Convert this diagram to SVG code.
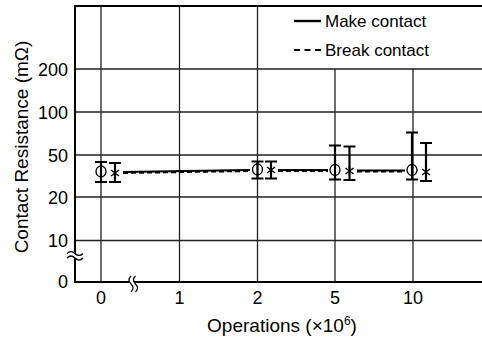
<svg xmlns="http://www.w3.org/2000/svg" width="482" height="341" viewBox="0 0 482 341">
<style>
.t{font-family:"Liberation Sans",Arial,sans-serif;fill:#000}
.tick{font-size:18px}
.ttl{font-size:19px}
.grid{stroke:#222;stroke-width:1.3;fill:none}
.axis{stroke:#000;stroke-width:2;fill:none}
.bar{stroke:#000;stroke-width:2.2;fill:none}
.mk{stroke:#000;stroke-width:1.3;fill:none}
.solid{stroke:#000;stroke-width:2;fill:none}
.dash{stroke:#000;stroke-width:2;fill:none;stroke-dasharray:5 3}
.legdash{stroke:#000;stroke-width:2.2;fill:none;stroke-dasharray:6 4.5}
</style>
<defs>
<g id="star"><path d="M0,-5V5M-4,-3L4,3M-4,3L4,-3" stroke="#000" stroke-width="1.5" fill="none"/></g>
</defs>
<rect width="482" height="341" fill="#fff"/>
<g id="grid">
<path class="grid" d="M75,69H482M75,112H482M75,155H482M75,197H482M75,240.5H482"/>
<path class="grid" d="M101,6V282M179.5,6V282M257.5,6V282M335,69V282M413,69V282"/>
</g>
<g id="axes">
<path class="axis" d="M482,6H75V282H482"/>
</g>
<g id="breaks" stroke="#000" stroke-width="1.2" fill="none">
<path d="M67,255q4,-4 8,0t8,0" stroke="#fff" stroke-width="4"/>
<path d="M67,253.5q4,-4 8,0t8,0M67,258q4,-4 8,0t8,0"/>
<path d="M133,276q-4,4 0,8t0,8" stroke="#fff" stroke-width="4"/>
<path d="M131,276q-4,4 0,8t0,8M135.5,276q-4,4 0,8t0,8"/>
</g>
<g id="ylabels" class="t tick" text-anchor="end">
<text x="68" y="75.5">200</text>
<text x="68" y="118.5">100</text>
<text x="68" y="161.5">50</text>
<text x="68" y="203.5">20</text>
<text x="68" y="247">10</text>
<text x="68" y="288">0</text>
</g>
<g id="xlabels" class="t tick" text-anchor="middle">
<text x="101" y="304">0</text>
<text x="179.5" y="304">1</text>
<text x="257.5" y="304">2</text>
<text x="335" y="304">5</text>
<text x="413" y="304">10</text>
</g>
<g id="titles" class="t ttl">
<text x="282" y="332" text-anchor="middle">Operations (×10<tspan font-size="12" dy="-7">6</tspan><tspan dy="7">)</tspan></text>
<text transform="translate(27.5,147) rotate(-90)" text-anchor="middle">Contact Resistance (mΩ)</text>
</g>
<g id="legend">
<path class="solid" d="M294,21H321" style="stroke-width:2.4"/>
<text class="t" font-size="17" x="325" y="27">Make contact</text>
<path class="legdash" d="M294,50H321"/>
<text class="t" font-size="17" x="325" y="56">Break contact</text>
</g>
<g id="connectors">
<path class="solid" d="M123,172L250,170M278,170L328,170M357,170.5L405,170.5"/>
<path class="dash" d="M123,173L250,171M278,171L328,171M357,171.5L405,171.5"/>
</g>
<g id="errorbars">
<path class="bar" d="M101,162V182M95,162H107M95,182H107"/>
<path class="bar" d="M115,163V182M109,163H121M109,182H121"/>
<path class="bar" d="M257.5,161.5V178.5M251.5,161.5H263.5M251.5,178.5H263.5"/>
<path class="bar" d="M271,161.5V178.5M265,161.5H277M265,178.5H277"/>
<path class="bar" d="M335,145.5V179.5M329,145.5H341M329,179.5H341"/>
<path class="bar" d="M349.5,146.5V180M343.5,146.5H355.5M343.5,180H355.5"/>
<path class="bar" d="M412,132.5V179.5M406,132.5H418M406,179.5H418"/>
<path class="bar" d="M426,143V181M420,143H432M420,181H432"/>
</g>
<g id="markers">
<ellipse class="mk" cx="101" cy="171.5" rx="5" ry="5.5"/>
<use href="#star" x="115" y="173"/>
<ellipse class="mk" cx="257.5" cy="169.5" rx="5" ry="5.5"/>
<use href="#star" x="271" y="170"/>
<ellipse class="mk" cx="335" cy="170" rx="5" ry="5.5"/>
<use href="#star" x="349.5" y="171"/>
<ellipse class="mk" cx="412" cy="170" rx="5" ry="5.5"/>
<use href="#star" x="426" y="172"/>
</g>
</svg>
